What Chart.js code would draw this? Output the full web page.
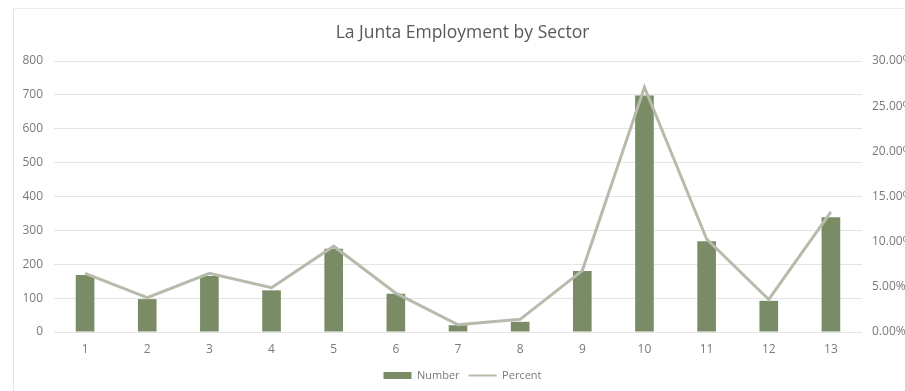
<!DOCTYPE html>
<html>
<head>
<meta charset="utf-8">
<title>La Junta Employment by Sector</title>
<script src="https://cdn.jsdelivr.net/npm/chart.js@4"></script>
<style>
  html, body { margin: 0; padding: 0; background: #fff; overflow: hidden; }
  #wrap { position: absolute; left: 0; top: 0; width: 925px; height: 391px; }
  #frame { position: absolute; left: 13px; top: 8px; width: 900px; height: 400px;
           border-left: 1px solid #e4e4e4; border-top: 1px solid #ececec; }
</style>
</head>
<body>
<div id="frame"></div>
<div id="wrap"><canvas id="chart"></canvas></div>
<script>
// sectors 1..13
const sectors = ['1', '2', '3', '4', '5', '6', '7', '8', '9', '10', '11', '12', '13'];
// employees per sector
const numbers = [168, 97, 165, 123, 246, 113, 20, 30, 180, 698, 268, 92, 339];
// share of total employment, %
const percents = [6.5, 3.8, 6.5, 4.9, 9.5, 4.3, 0.8, 1.4, 6.8, 27.1, 10.3, 3.6, 13.3];

const barColor = '#7a8c66';
const lineColor = '#b8baab';
const tickColor = '#7a7a7a';
const font = "'Open Sans', 'Liberation Sans', sans-serif";

const ctx = document.getElementById('chart').getContext('2d');

const chart = new Chart(ctx, {
    type: 'bar',
    data: {
        labels: sectors,
        datasets: [
            {
                label: 'Number',
                data: numbers,
                backgroundColor: barColor,
                borderWidth: 0,
                categoryPercentage: 1,
                barPercentage: 0.3,
                yAxisID: 'y',
                pointStyle: 'rect',
                order: 1
            },
            {
                type: 'line',
                label: 'Percent',
                data: percents,
                borderColor: lineColor,
                backgroundColor: lineColor,
                borderWidth: 3,
                tension: 0,
                pointRadius: 0,
                pointHoverRadius: 0,
                pointStyle: 'line',
                pointBorderColor: lineColor,
                pointBorderWidth: 2,
                yAxisID: 'y1',
                order: 0
            }
        ]
    },
    options: {
        responsive: true,
        maintainAspectRatio: false,
        animation: false,
        layout: { padding: 0 },
        plugins: {
            title: {
                display: true,
                text: 'La Junta Employment by Sector',
                color: '#595959',
                font: { family: font, size: 17.5, weight: 'normal' },
                padding: { top: 23, bottom: 17 }
            },
            legend: {
                position: 'bottom',
                labels: {
                    usePointStyle: true,
                    pointStyleWidth: 28,
                    boxHeight: 7,
                    padding: 9,
                    color: tickColor,
                    font: { family: font, size: 11 },
                    sort: (a, b) => a.datasetIndex - b.datasetIndex
                }
            },
            tooltip: { enabled: false }
        },
        scales: {
            x: {
                grid: { display: false, drawTicks: false },
                border: { display: false },
                ticks: { color: tickColor, font: { family: font, size: 12 }, padding: 10 },
                afterFit: (scale) => { scale.height = 29; }
            },
            y: {
                position: 'left',
                min: 0,
                max: 800,
                ticks: { stepSize: 100, color: tickColor, font: { family: font, size: 12 }, padding: 11 },
                grid: { color: '#e4e4e4', drawTicks: false },
                border: { display: false },
                afterFit: (scale) => { scale.width = 54; }
            },
            y1: {
                position: 'right',
                min: 0,
                max: 30,
                ticks: {
                    stepSize: 5,
                    color: tickColor,
                    font: { family: font, size: 12 },
                    padding: 10,
                    callback: (v) => v.toFixed(2) + '%'
                },
                grid: { display: false, drawTicks: false },
                border: { display: false },
                afterFit: (scale) => { scale.width = 63; }
            }
        }
    }
});
</script>
</body>
</html>
